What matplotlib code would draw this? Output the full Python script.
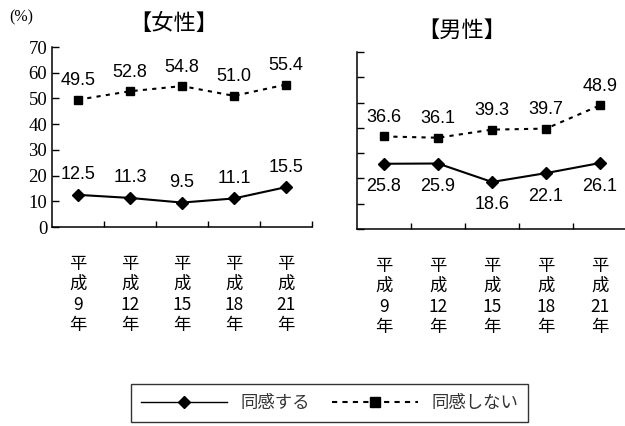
import matplotlib
matplotlib.use("Agg")
import matplotlib.pyplot as plt
from matplotlib.lines import Line2D

# data
years = ['平\n成\n9\n年', '平\n成\n12\n年', '平\n成\n15\n年', '平\n成\n18\n年', '平\n成\n21\n年']
female_agree = [12.5, 11.3, 9.5, 11.1, 15.5]
female_disagree = [49.5, 52.8, 54.8, 51.0, 55.4]
male_agree = [25.8, 25.9, 18.6, 22.1, 26.1]
male_disagree = [36.6, 36.1, 39.3, 39.7, 48.9]
yticks = [0, 10, 20, 30, 40, 50, 60, 70]

cjk = ['Noto Sans CJK JP', 'DejaVu Sans']
dash = (0, (2, 2.5))

fig = plt.figure(figsize=(6.25, 4.26), dpi=100)
ax1 = fig.add_axes([52/625, 1-227/426, 260/625, 180/426])
ax2 = fig.add_axes([357/625, 1-229/426, 270/625, 177/426])


def draw(ax, agree, disagree, agree_off, show_y):
    x = list(range(len(agree)))
    ax.plot(x, agree, color='black', lw=1.5, marker='D', ms=6)
    ax.plot(x, disagree, color='black', lw=1.5, ls=dash, marker='s', ms=6)
    for xi, v in zip(x, disagree):
        ax.annotate('%.1f' % v, (xi, v), xytext=(0, 19), textcoords='offset pixels',
                    ha='center', va='center', fontsize=13, family='Liberation Sans')
    for xi, v in zip(x, agree):
        ax.annotate('%.1f' % v, (xi, v), xytext=(0, agree_off), textcoords='offset pixels',
                    ha='center', va='center', fontsize=13, family='Liberation Sans')
    ax.set_xlim(-0.5, 4.5)
    ax.set_ylim(0, 70)
    ax.set_yticks(yticks)
    ax.set_xticks(x)
    ax.set_xticklabels(years, family=cjk, fontsize=12.5, linespacing=1.17, va='top')
    ax.set_xticks([0.5, 1.5, 2.5, 3.5, 4.5], minor=True)
    ax.tick_params(axis='x', which='major', length=0, pad=20)
    ax.tick_params(axis='x', which='minor', direction='in', length=4, width=1)
    ax.tick_params(axis='y', direction='in', length=5, width=1)
    if show_y:
        ax.set_yticklabels([str(t) for t in yticks], family='Liberation Serif', fontsize=13.5)
    else:
        ax.set_yticklabels([])
    for s in ['top', 'right']:
        ax.spines[s].set_visible(False)
    for s in ['left', 'bottom']:
        ax.spines[s].set_linewidth(1.1)


draw(ax1, female_agree, female_disagree, 20, True)
draw(ax2, male_agree, male_disagree, -23, False)

fig.text(174/625, 1-23/426, '【女性】', family=cjk, fontsize=16, ha='center', va='center')
fig.text(462/625, 1-30/426, '【男性】', family=cjk, fontsize=16, ha='center', va='center')
fig.text(21/625, 1-17/426, '(%)', family='Liberation Serif', fontsize=11.5, ha='center', va='center')

handles = [Line2D([], [], color='black', lw=1, marker='D', ms=6),
           Line2D([], [], color='black', lw=1.5, ls=(0, (2.5, 2.5)), marker='s', ms=7)]
leg = fig.legend(handles, ['同感する', '同感しない'], ncol=2, loc='center',
                 bbox_to_anchor=(329.5/625, 1-403/426), prop={'family': cjk, 'size': 12.5},
                 frameon=True, fancybox=False, edgecolor='black', handlelength=4.95,
                 handletextpad=0.8, columnspacing=1.25, borderpad=0.55, numpoints=1,
                 borderaxespad=0)
leg.get_frame().set_linewidth(1)
for t in leg.get_texts():
    t.set_color('#333333')

fig.savefig('out.png', dpi=100)
